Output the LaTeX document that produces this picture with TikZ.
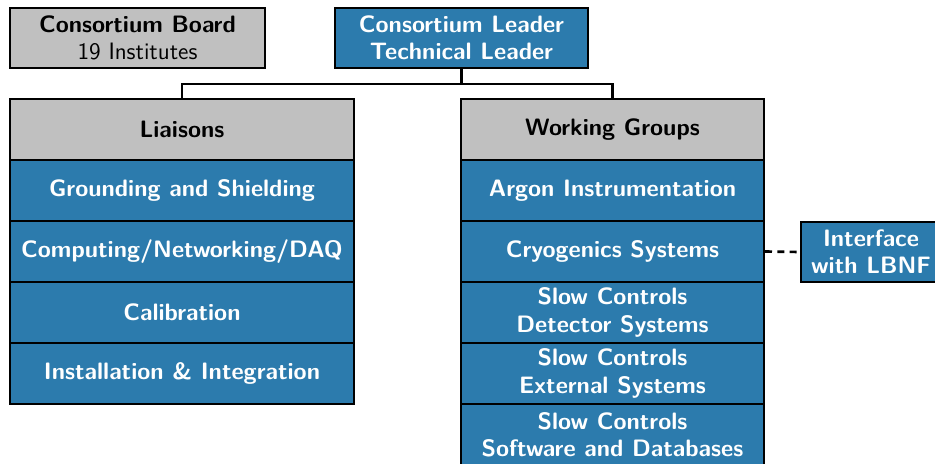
\documentclass[tikz,border=0pt]{standalone}
\usepackage{xcolor}
\usepackage{tikz}
\usetikzlibrary{positioning}

\definecolor{wgblue}{RGB}{44,123,173}
\definecolor{headgray}{RGB}{192,192,192}

\begin{document}
\begin{tikzpicture}[
    font=\sffamily\bfseries\fontsize{13.5}{15.5}\selectfont,
    box/.style={draw, line width=1.1pt, align=center, inner sep=0pt,
                minimum height=1.2cm},
    head/.style={box, fill=headgray, text=black},
    unit/.style={box, fill=wgblue, text=white},
    liaison/.style={unit, minimum width=6.88cm, minimum height=1.22cm},
    group/.style={unit, minimum width=6.06cm, minimum height=1.22cm},
    link/.style={line width=1.5pt, black},
  ]
    \useasboundingbox (0,0) rectangle (18.7,-9.26);

    \node[head, minimum width=5.1cm]  (board)  at (2.75,-0.76) {Consortium Board\\\mdseries 19 Institutes};
    \node[unit, minimum width=5.06cm] (leader) at (9.23,-0.76) {Consortium Leader\\Technical Leader};

    % liaisons column
    \node[head, minimum width=6.88cm, minimum height=1.22cm] (liaisons) at (3.64,-2.59) {Liaisons};
    \node[liaison] (ground)  at (3.64,-3.81) {Grounding and Shielding};
    \node[liaison] (daq)     at (3.64,-5.03) {Computing/Networking/DAQ};
    \node[liaison] (calib)   at (3.64,-6.25) {Calibration};
    \node[liaison] (install) at (3.64,-7.47) {Installation \& Integration};

    % working groups column
    \node[head, minimum width=6.06cm, minimum height=1.22cm] (groups) at (12.25,-2.59) {Working Groups};
    \node[group] (argon)  at (12.25,-3.81) {Argon Instrumentation};
    \node[group] (cryo)   at (12.25,-5.03) {Cryogenics Systems};
    \node[group] (scdet)  at (12.25,-6.25) {Slow Controls\\Detector Systems};
    \node[group] (scext)  at (12.25,-7.47) {Slow Controls\\External Systems};
    \node[group] (scsoft) at (12.25,-8.69) {Slow Controls\\Software and Databases};

    \node[unit, minimum width=2.8cm] (lbnf) at (17.42,-5.04) {Interface\\with LBNF};

    \coordinate (split) at (9.23,-1.68);
    \draw[link] (leader.south) -- (split);
    \draw[link] (split) -| (liaisons.north);
    \draw[link] (split) -| (groups.north);

    \draw[link, dash pattern=on 4pt off 3pt] (cryo.east) -- (lbnf.west);
  \end{tikzpicture}
\end{document}
